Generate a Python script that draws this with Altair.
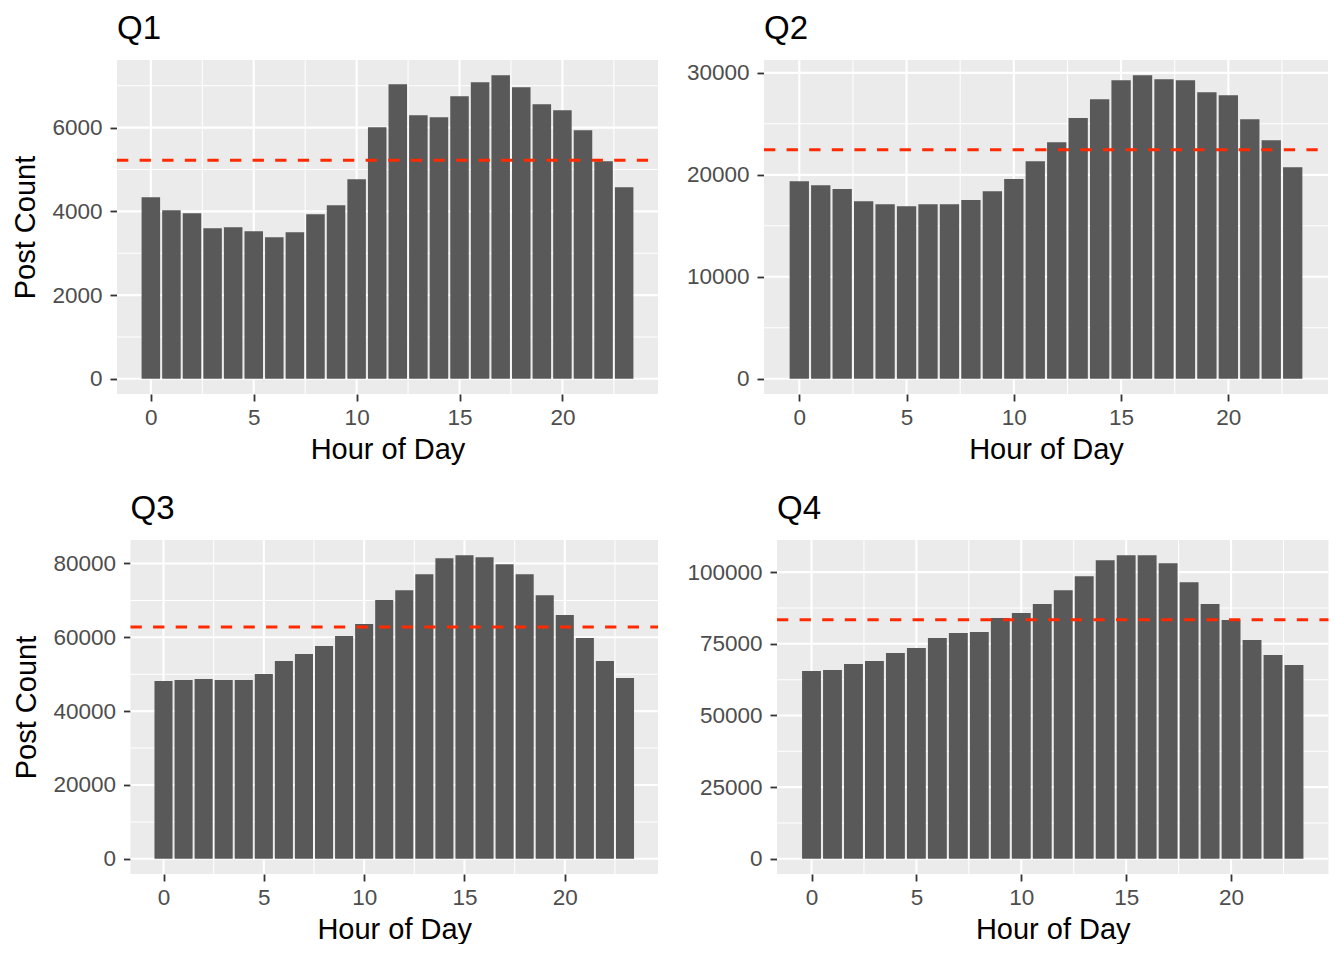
import altair as alt
import pandas as pd

HOURS = list(range(24))

Q1 = [4338, 4028, 3956, 3598, 3622, 3526, 3383, 3502, 3932, 4147, 4768, 6010,
      7037, 6296, 6249, 6750, 7084, 7252, 6965, 6559, 6416, 5938, 5198, 4577]
Q2 = [19380, 18990, 18600, 17420, 17120, 16930, 17120, 17120, 17520, 18400, 19580, 21340,
      23200, 25560, 27420, 29280, 29770, 29380, 29280, 28100, 27810, 25460, 23400, 20750]
Q3 = [48160, 48430, 48700, 48430, 48430, 50060, 53570, 55470, 57630, 60340, 63580, 70080,
      72780, 77110, 81440, 82250, 81710, 79820, 77110, 71430, 66020, 59800, 53570, 48970]
Q4 = [65500, 65850, 67940, 68990, 71780, 73520, 77000, 78740, 79090, 83970, 85710, 88850,
      93730, 98600, 104180, 105920, 105920, 103130, 96510, 88850, 83270, 76300, 71080, 67590]

QUARTERS = ["Q1", "Q2", "Q3", "Q4"]
SERIES = [Q1, Q2, Q3, Q4]
MEANS = [5220, 22450, 62770, 83390]

Y_MAJOR = [[0, 2000, 4000, 6000],
           [0, 10000, 20000, 30000],
           [0, 20000, 40000, 60000, 80000],
           [0, 25000, 50000, 75000, 100000]]
Y_MINOR = [[1000, 3000, 5000, 7000],
           [5000, 15000, 25000],
           [10000, 30000, 50000, 70000],
           [12500, 37500, 62500, 87500]]
X_MAJOR = [0, 5, 10, 15, 20]
X_MINOR = [2.5, 7.5, 12.5, 17.5, 22.5]

# layout (pixels): panel widths and left insets (ggplot aligns the left
# edges of the whole plots, not of the panels)
WIDTHS = [541, 564, 527.5, 551.5]
INSETS = [0, 0, 13.5, 0]
HEIGHT = 334
BAR_HALF = 0.45
FONT = "Liberation Sans"
BG = "#EBEBEB"


def panel(i, show_ytitle):
    values = SERIES[i]
    m = max(values)
    inset = INSETS[i]
    view_w = inset + WIDTHS[i]
    span_x = (max(HOURS) + BAR_HALF) - (min(HOURS) - BAR_HALF)
    xlo = min(HOURS) - BAR_HALF - 0.05 * span_x
    xhi = max(HOURS) + BAR_HALF + 0.05 * span_x
    ylo, yhi = -0.05 * m, 1.05 * m
    xs = alt.Scale(domain=[xlo, xhi], range=[inset, view_w], nice=False, zero=False)
    ys = alt.Scale(domain=[ylo, yhi], nice=False, zero=False)

    xaxis = alt.Axis(values=X_MAJOR, title="Hour of Day", format="d", grid=False)
    yaxis = alt.Axis(values=Y_MAJOR[i], title="Post Count" if show_ytitle else "",
                     format="d", grid=False, offset=-inset)

    X = lambda **k: alt.X(scale=xs, axis=xaxis, **k)
    Y = lambda **k: alt.Y(scale=ys, axis=yaxis, **k)
    one = pd.DataFrame({"a": [0]})

    bg = alt.Chart(one).mark_rect(color=BG).encode(
        x=X(datum=xlo, type="quantitative"), x2=alt.X2(datum=xhi),
        y=Y(datum=ylo, type="quantitative"), y2=alt.Y2(datum=yhi))

    def hrules(vals, w):
        return alt.Chart(pd.DataFrame({"v": vals})).mark_rule(
            color="white", strokeWidth=w).encode(
            y=Y(field="v", type="quantitative"),
            x=X(datum=xlo, type="quantitative"), x2=alt.X2(datum=xhi))

    def vrules(vals, w):
        return alt.Chart(pd.DataFrame({"v": vals})).mark_rule(
            color="white", strokeWidth=w).encode(
            x=X(field="v", type="quantitative"),
            y=Y(datum=ylo, type="quantitative"), y2=alt.Y2(datum=yhi))

    df = pd.DataFrame({"hour": HOURS, "count": values})
    bars = alt.Chart(df).transform_calculate(
        x0=f"datum.hour - {BAR_HALF}", x1=f"datum.hour + {BAR_HALF}"
    ).mark_bar(color="#595959").encode(
        x=X(field="x0", type="quantitative"),
        x2="x1:Q",
        y=Y(field="count", type="quantitative"),
        y2=alt.Y2(datum=0),
    )

    mean_rule = alt.Chart(pd.DataFrame({"m": [MEANS[i]]})).mark_rule(
        color="#FF2A00", strokeWidth=3, strokeDash=[11.3, 11.3]
    ).encode(
        y=Y(field="m", type="quantitative"),
        x=X(datum=xlo, type="quantitative"), x2=alt.X2(datum=xhi))

    title = alt.TitleParams(text=QUARTERS[i], dx=inset)
    return alt.layer(
        bg, hrules(Y_MINOR[i], 1.05), vrules(X_MINOR, 1.05),
        hrules(Y_MAJOR[i], 2.1), vrules(X_MAJOR, 2.1), bars, mean_rule
    ).properties(width=view_w, height=HEIGHT, title=title)


row1 = alt.hconcat(panel(0, True), panel(1, False), spacing=26)
row2 = alt.hconcat(panel(2, True), panel(3, False), spacing=26)

chart = alt.vconcat(row1, row2, spacing=29).properties(
    padding={"left": 3, "top": 5, "right": 0, "bottom": 0}
).configure_view(
    strokeOpacity=0
).configure_axis(
    domain=False, tickColor="#333333", tickWidth=1.8, tickSize=7,
    labelColor="#4D4D4D", labelFontSize=22.5, labelFont=FONT, labelFlush=False,
    titleFontSize=29, titleFont=FONT, titleColor="black", titleFontWeight="normal",
).configure_axisX(
    labelPadding=5, titlePadding=6.5
).configure_axisY(
    labelPadding=8, titlePadding=11.5
).configure_title(
    font=FONT, fontSize=33, fontWeight="normal", color="black",
    anchor="start", frame="group", offset=12.7, baseline="alphabetic"
)

chart.save("out.html", embed_options={"renderer": "svg", "actions": False})
